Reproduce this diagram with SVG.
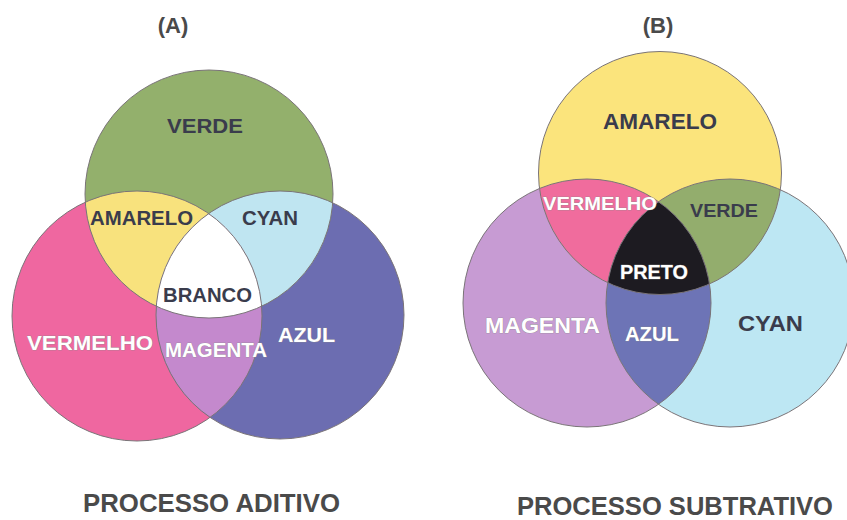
<svg xmlns="http://www.w3.org/2000/svg" width="847" height="520" viewBox="0 0 847 520">
<style>
.t{font-family:"Liberation Sans",Arial,sans-serif;font-weight:bold;text-anchor:middle}
.dk{fill:#3a3c4c}
.wh{fill:#ffffff;stroke:#8a8a8a;stroke-width:0.6;paint-order:stroke}
.hd{fill:#4a4a4a}
.ol{fill:none;stroke:#7a7478;stroke-width:1}
</style>
<defs>
<clipPath id="cAG"><circle cx="209" cy="194" r="124"/></clipPath>
<clipPath id="cAR"><circle cx="137" cy="316" r="125"/></clipPath>
<clipPath id="cAB"><circle cx="280" cy="315" r="124"/></clipPath>
<clipPath id="cBY"><circle cx="660" cy="173" r="121.5"/></clipPath>
<clipPath id="cBM"><circle cx="587" cy="303" r="124"/></clipPath>
<clipPath id="cBC"><circle cx="730" cy="303" r="124"/></clipPath>
</defs>
<rect width="847" height="520" fill="#ffffff"/>

<g id="diagramA">
<g id="a-vermelho"><circle cx="137" cy="316" r="125" fill="#ef67a0"/></g>
<g id="a-azul"><circle cx="280" cy="315" r="124" fill="#6c6db1"/></g>
<g id="a-verde"><circle cx="209" cy="194" r="124" fill="#93b06c"/></g>
<g id="a-amarelo" clip-path="url(#cAG)"><circle cx="137" cy="316" r="125" fill="#f8e27d"/></g>
<g id="a-cyan" clip-path="url(#cAG)"><circle cx="280" cy="315" r="124" fill="#bfe5f1"/></g>
<g id="a-magenta" clip-path="url(#cAR)"><circle cx="280" cy="315" r="124" fill="#c489cd"/></g>
<g id="a-branco" clip-path="url(#cAR)"><g clip-path="url(#cAB)"><circle cx="209" cy="194" r="124" fill="#ffffff"/></g></g>
<g id="a-outlines">
<circle class="ol" cx="209" cy="194" r="124"/>
<circle class="ol" cx="137" cy="316" r="125"/>
<circle class="ol" cx="280" cy="315" r="124"/>
</g>
<text class="t hd" x="173" y="33" font-size="22">(A)</text>
<text class="t dk" x="205" y="133" font-size="20" textLength="76" lengthAdjust="spacingAndGlyphs">VERDE</text>
<text class="t dk" x="141.5" y="225" font-size="20" textLength="103" lengthAdjust="spacingAndGlyphs">AMARELO</text>
<text class="t dk" x="270" y="225" font-size="20" textLength="56" lengthAdjust="spacingAndGlyphs">CYAN</text>
<text class="t dk" x="207.5" y="302" font-size="20" textLength="89" lengthAdjust="spacingAndGlyphs">BRANCO</text>
<text class="t wh" x="90" y="350" font-size="20" textLength="126" lengthAdjust="spacingAndGlyphs">VERMELHO</text>
<text class="t wh" x="216" y="357" font-size="20" textLength="102" lengthAdjust="spacingAndGlyphs">MAGENTA</text>
<text class="t wh" x="306.5" y="342" font-size="20" textLength="57" lengthAdjust="spacingAndGlyphs">AZUL</text>
<text class="t hd" x="211.5" y="512" font-size="25.5" textLength="257" lengthAdjust="spacingAndGlyphs">PROCESSO ADITIVO</text>
</g>

<g id="diagramB">
<g id="b-magenta"><circle cx="587" cy="303" r="124" fill="#c79bd3"/></g>
<g id="b-cyan"><circle cx="730" cy="303" r="124" fill="#bde7f3"/></g>
<g id="b-amarelo"><circle cx="660" cy="173" r="121.5" fill="#fbe47c"/></g>
<g id="b-vermelho" clip-path="url(#cBY)"><circle cx="587" cy="303" r="124" fill="#f06c9d"/></g>
<g id="b-verde" clip-path="url(#cBY)"><circle cx="730" cy="303" r="124" fill="#93ad6d"/></g>
<g id="b-azul" clip-path="url(#cBM)"><circle cx="730" cy="303" r="124" fill="#6d74b6"/></g>
<g id="b-preto" clip-path="url(#cBM)"><g clip-path="url(#cBC)"><circle cx="660" cy="173" r="121.5" fill="#1d1b21"/></g></g>
<g id="b-outlines">
<circle class="ol" cx="660" cy="173" r="121.5"/>
<circle class="ol" cx="587" cy="303" r="124"/>
<circle class="ol" cx="730" cy="303" r="124"/>
</g>
<text class="t hd" x="658" y="33" font-size="22">(B)</text>
<text class="t dk" x="660" y="129" font-size="22" textLength="114" lengthAdjust="spacingAndGlyphs">AMARELO</text>
<text class="t wh" x="600" y="210" font-size="18.5" textLength="114" lengthAdjust="spacingAndGlyphs">VERMELHO</text>
<text class="t dk" x="724" y="217" font-size="18.5" textLength="68" lengthAdjust="spacingAndGlyphs">VERDE</text>
<text class="t wh" x="654" y="279" font-size="19.5" textLength="68" lengthAdjust="spacingAndGlyphs">PRETO</text>
<text class="t wh" x="542.5" y="333" font-size="22" textLength="115" lengthAdjust="spacingAndGlyphs">MAGENTA</text>
<text class="t wh" x="652" y="341" font-size="19.5" textLength="54" lengthAdjust="spacingAndGlyphs">AZUL</text>
<text class="t dk" x="770.5" y="331" font-size="22" textLength="65" lengthAdjust="spacingAndGlyphs">CYAN</text>
<text class="t hd" x="675" y="515" font-size="25.5" textLength="316" lengthAdjust="spacingAndGlyphs">PROCESSO SUBTRATIVO</text>
</g>
</svg>
